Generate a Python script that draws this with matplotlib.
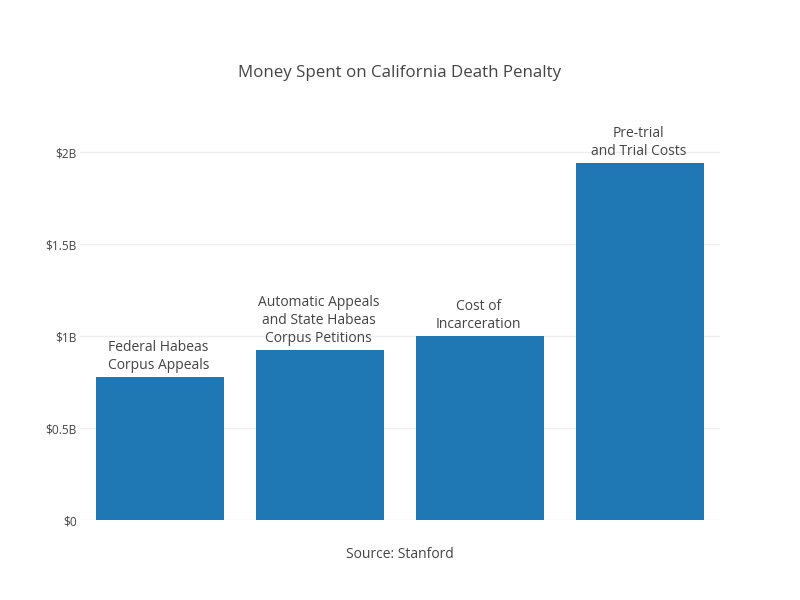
import matplotlib
matplotlib.use("Agg")
import matplotlib.pyplot as plt
from matplotlib.ticker import FixedLocator, FixedFormatter

categories = ["Federal Habeas\nCorpus Appeals",
              "Automatic Appeals\nand State Habeas\nCorpus Petitions",
              "Cost of\nIncarceration",
              "Pre-trial\nand Trial Costs"]
values = [0.775, 0.925, 1.0, 1.94]  # billions of dollars
tick_vals = [0, 0.5, 1.0, 1.5, 2.0]
tick_labels = ["$0", "$0.5B", "$1B", "$1.5B", "$2B"]

plt.rcParams['font.family'] = ['Open Sans', 'DejaVu Sans']
txt = '#444444'

fig = plt.figure(figsize=(8, 6), dpi=100)
ax = fig.add_axes([0.1, 80/600, 0.8, 420/600])
x = list(range(len(categories)))
ax.bar(x, values, width=0.8, color='#1f77b4', zorder=2)
for xi, v, lab in zip(x, values, categories):
    ax.annotate(lab, (xi, v), xytext=(-1, 3), textcoords='offset points',
                ha='center', va='bottom', fontsize=10, color=txt,
                linespacing=1.26, zorder=3)
ax.set_xlim(-0.5, 3.5)
ax.set_ylim(0, 2.283)
ax.yaxis.set_major_locator(FixedLocator(tick_vals))
ax.yaxis.set_major_formatter(FixedFormatter(tick_labels))
ax.set_xticks([])
ax.tick_params(axis='y', length=0, pad=2.5, labelsize=8.6, labelcolor=txt)
ax.grid(axis='y', color='#eeeeee', linewidth=1, zorder=0)
for s in ax.spines.values():
    s.set_visible(False)
fig.text(0.5, 1 - 73/600, "Money Spent on California Death Penalty",
         ha='center', va='center', fontsize=12.2, color=txt)
fig.text(0.5, 1 - 554/600, "Source: Stanford", ha='center', va='center',
         fontsize=10, color=txt)
fig.savefig("out.png", dpi=100)
